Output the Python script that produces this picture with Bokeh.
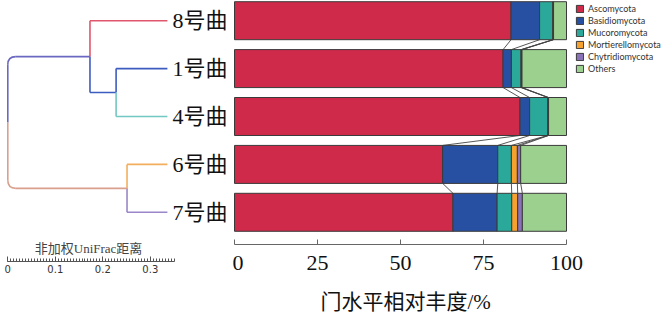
import numpy as np
from bokeh.plotting import figure
from bokeh.models import Range1d, FixedTicker, Label, Title
from bokeh.layouts import row
from bokeh.embed import file_html
from bokeh.resources import INLINE
from bokeh.core.properties import value

# ---------------- data ----------------
samples = ["8号曲", "1号曲", "4号曲", "6号曲", "7号曲"]
phyla = ["Ascomycota", "Basidiomycota", "Mucoromycota",
         "Mortierellomycota", "Chytridiomycota", "Others"]
ascomycota = [83.3, 80.9, 86.0, 62.7, 65.8]
basidiomycota = [8.6, 2.5, 2.9, 16.6, 13.3]
mucoromycota = [4.0, 2.9, 5.5, 4.1, 4.4]
mortierellomycota = [0.1, 0.2, 0.1, 1.8, 1.8]
chytridiomycota = [0.1, 0.1, 0.1, 1.0, 1.4]
others = [3.9, 13.4, 5.4, 13.8, 13.3]
phylum_colors = ["#d02a4a", "#2850a2", "#2aa99a", "#f5a12e", "#8a72b8", "#9bd08f"]

# dendrogram merge heights (unweighted UniFrac distance)
h_1_4 = 0.108      # 1号曲 + 4号曲
h_8_14 = 0.163     # 8号曲 + (1,4)
h_6_7 = 0.085      # 6号曲 + 7号曲
h_root = 0.336     # root
scale_ticks = [0, 0.1, 0.2, 0.3]
pct_ticks = [0, 25, 50, 75, 100]

# ---------------- layout constants ----------------
ROW0 = 20.2      # px of first row centre
PITCH = 47.9     # px between rows
H = 312
LEFT_W = 232
RIGHT_W = 666 - LEFT_W
BAR_H = 0.793

rows = np.arange(len(samples))

# ============ left: dendrogram ============
L_BOTTOM = 261
DPX = 475.0      # px per distance unit
D0 = 7.3         # px of distance 0
p1 = figure(width=LEFT_W, height=H, output_backend="svg", toolbar_location=None,
            x_range=Range1d(-D0 / DPX, (LEFT_W - D0) / DPX),
            y_range=Range1d((L_BOTTOM - ROW0) / PITCH, -ROW0 / PITCH),
            min_border_left=0, min_border_right=0, min_border_top=0,
            min_border_bottom=H - L_BOTTOM, y_axis_location=None,
            x_axis_location="below")
p1.frame_align = False
p1.grid.visible = False
p1.outline_line_color = None
p1.background_fill_color = "white"
p1.border_fill_color = "white"

xL = h_root
xA = h_root - h_8_14
xB = h_root - h_1_4
xC = h_root - h_6_7
yB = (rows[1] + rows[2]) / 2
yA = (rows[0] + yB) / 2
yC = (rows[3] + rows[4]) / 2
yR = (yA + yC) / 2

c8, c1, c4, c6, c7 = "#e0566c", "#3d5cc0", "#72c8c2", "#f3ae5c", "#9a86c8"
cup, clow = "#6a68c0", "#d9a08e"
LW = 1.6

segs = [
    (xA, rows[0], xL, rows[0], c8), (xA, rows[0], xA, yA, c8),
    (xA, yA, xA, yB, c1), (xA, yB, xB, yB, c1),
    (xB, rows[1], xB, yB, c1), (xB, rows[1], xL, rows[1], c1),
    (xB, yB, xB, rows[2], c4), (xB, rows[2], xL, rows[2], c4),
    (xC, rows[3], xC, yC, c6), (xC, rows[3], xL, rows[3], c6),
    (xC, yC, xC, rows[4], c7), (xC, rows[4], xL, rows[4], c7),
]
rx = 8 / DPX
ry = 8 / PITCH
segs += [
    (rx, yA, xA, yA, cup), (0, yA + ry, 0, yR, cup),
    (rx, yC, xC, yC, clow), (0, yR, 0, yC - ry, clow),
]
p1.segment(x0=[s[0] for s in segs], y0=[s[1] for s in segs],
           x1=[s[2] for s in segs], y1=[s[3] for s in segs],
           line_color=[s[4] for s in segs], line_width=LW)
p1.quadratic(x0=[0, 0], y0=[yA + ry, yC - ry], x1=[rx, rx], y1=[yA, yC],
             cx=[0, 0], cy=[yA, yC], line_color=[cup, clow], line_width=LW)

p1.text(x=[xL] * len(samples), y=rows, text=samples, x_offset=5,
        text_baseline="middle", text_align="left",
        text_font=value("Liberation Serif, Noto Sans CJK SC"),
        text_font_size="22px", text_color="#111")

ax1 = p1.xaxis[0]
ax1.bounds = (0, 0.35)
ax1.ticker = FixedTicker(ticks=scale_ticks,
                         minor_ticks=list(np.arange(0, 0.3501, 0.00625)))
ax1.major_tick_in = 5
ax1.major_tick_out = 0
ax1.minor_tick_in = 3
ax1.minor_tick_out = 0
ax1.axis_line_color = "#555"
ax1.major_tick_line_color = "#555"
ax1.minor_tick_line_color = "#555"
ax1.major_label_text_font = "DejaVu Sans"
ax1.major_label_text_font_size = "10px"
ax1.major_label_text_color = "#333"
ax1.major_label_standoff = 3

p1.add_layout(Label(x=0.17, y=(248 - ROW0) / PITCH, text="非加权UniFrac距离",
                    text_align="center", text_baseline="middle",
                    text_font="Liberation Serif, Noto Sans CJK SC",
                    text_font_size="13px", text_color="#444"))

# ============ right: stacked bars ============
R_BOTTOM = 244
X0PX = 2.0       # px of 0 % inside right figure
PPX = 3.32       # px per percent
p2 = figure(width=RIGHT_W, height=H, output_backend="svg", toolbar_location=None,
            x_range=Range1d(-X0PX / PPX, (RIGHT_W - X0PX) / PPX),
            y_range=Range1d((R_BOTTOM - ROW0) / PITCH, -ROW0 / PITCH),
            min_border_left=0, min_border_right=0, min_border_top=0,
            min_border_bottom=0, y_axis_location=None,
            x_axis_location="below")
p2.frame_align = False
p2.frame_height = R_BOTTOM
p2.grid.visible = False
p2.outline_line_color = None
p2.background_fill_color = "white"
p2.border_fill_color = "white"

table = np.array([ascomycota, basidiomycota, mucoromycota,
                  mortierellomycota, chytridiomycota, others])  # phyla x samples
right = np.cumsum(table, axis=0)
left = right - table

# connector lines between neighbouring bars
cx0, cy0, cx1, cy1 = [], [], [], []
for r in range(len(samples) - 1):
    for k in range(len(phyla) - 1):
        cx0.append(right[k, r]); cy0.append(rows[r] + BAR_H / 2)
        cx1.append(right[k, r + 1]); cy1.append(rows[r + 1] - BAR_H / 2)
p2.segment(x0=cx0, y0=cy0, x1=cx1, y1=cy1, line_color="#444", line_width=0.9)

for k, name in enumerate(phyla):
    p2.hbar(y=rows, left=left[k], right=right[k], height=BAR_H,
            fill_color=phylum_colors[k], line_color="#3a3a3a", line_width=1,
            legend_label=name)

ax2 = p2.xaxis[0]
ax2.bounds = (0, 100)
ax2.ticker = FixedTicker(ticks=pct_ticks)
ax2.minor_tick_line_color = None
ax2.major_tick_in = 5
ax2.major_tick_out = 0
ax2.axis_line_color = "#666"
ax2.major_tick_line_color = "#666"
ax2.major_label_text_font = "Liberation Serif"
ax2.major_label_text_font_size = "22px"
ax2.major_label_text_color = "#111"
ax2.major_label_standoff = 11

# axis title, shifted so it sits centred under the 0-100 scale
p2.add_layout(Title(text="门水平相对丰度/%", align="left", offset=88,
                    text_font="Liberation Serif, Noto Sans CJK SC",
                    text_font_size="21px", text_font_style="normal",
                    text_color="#111", standoff=30), "below")

lg = p2.legend[0]
lg.location = (343, R_BOTTOM - 77 + 3)
lg.padding = 0
lg.margin = 0
lg.spacing = 1
lg.glyph_width = 9
lg.glyph_height = 9
lg.label_height = 9
lg.label_standoff = 4
lg.label_text_font = "Lato"
lg.label_text_font_size = "9px"
lg.label_text_color = "#333"
lg.label_text_baseline = "middle"
lg.border_line_color = None
lg.background_fill_alpha = 0

layout = row(p1, p2)
open("out.html", "w").write(file_html(layout, INLINE))
